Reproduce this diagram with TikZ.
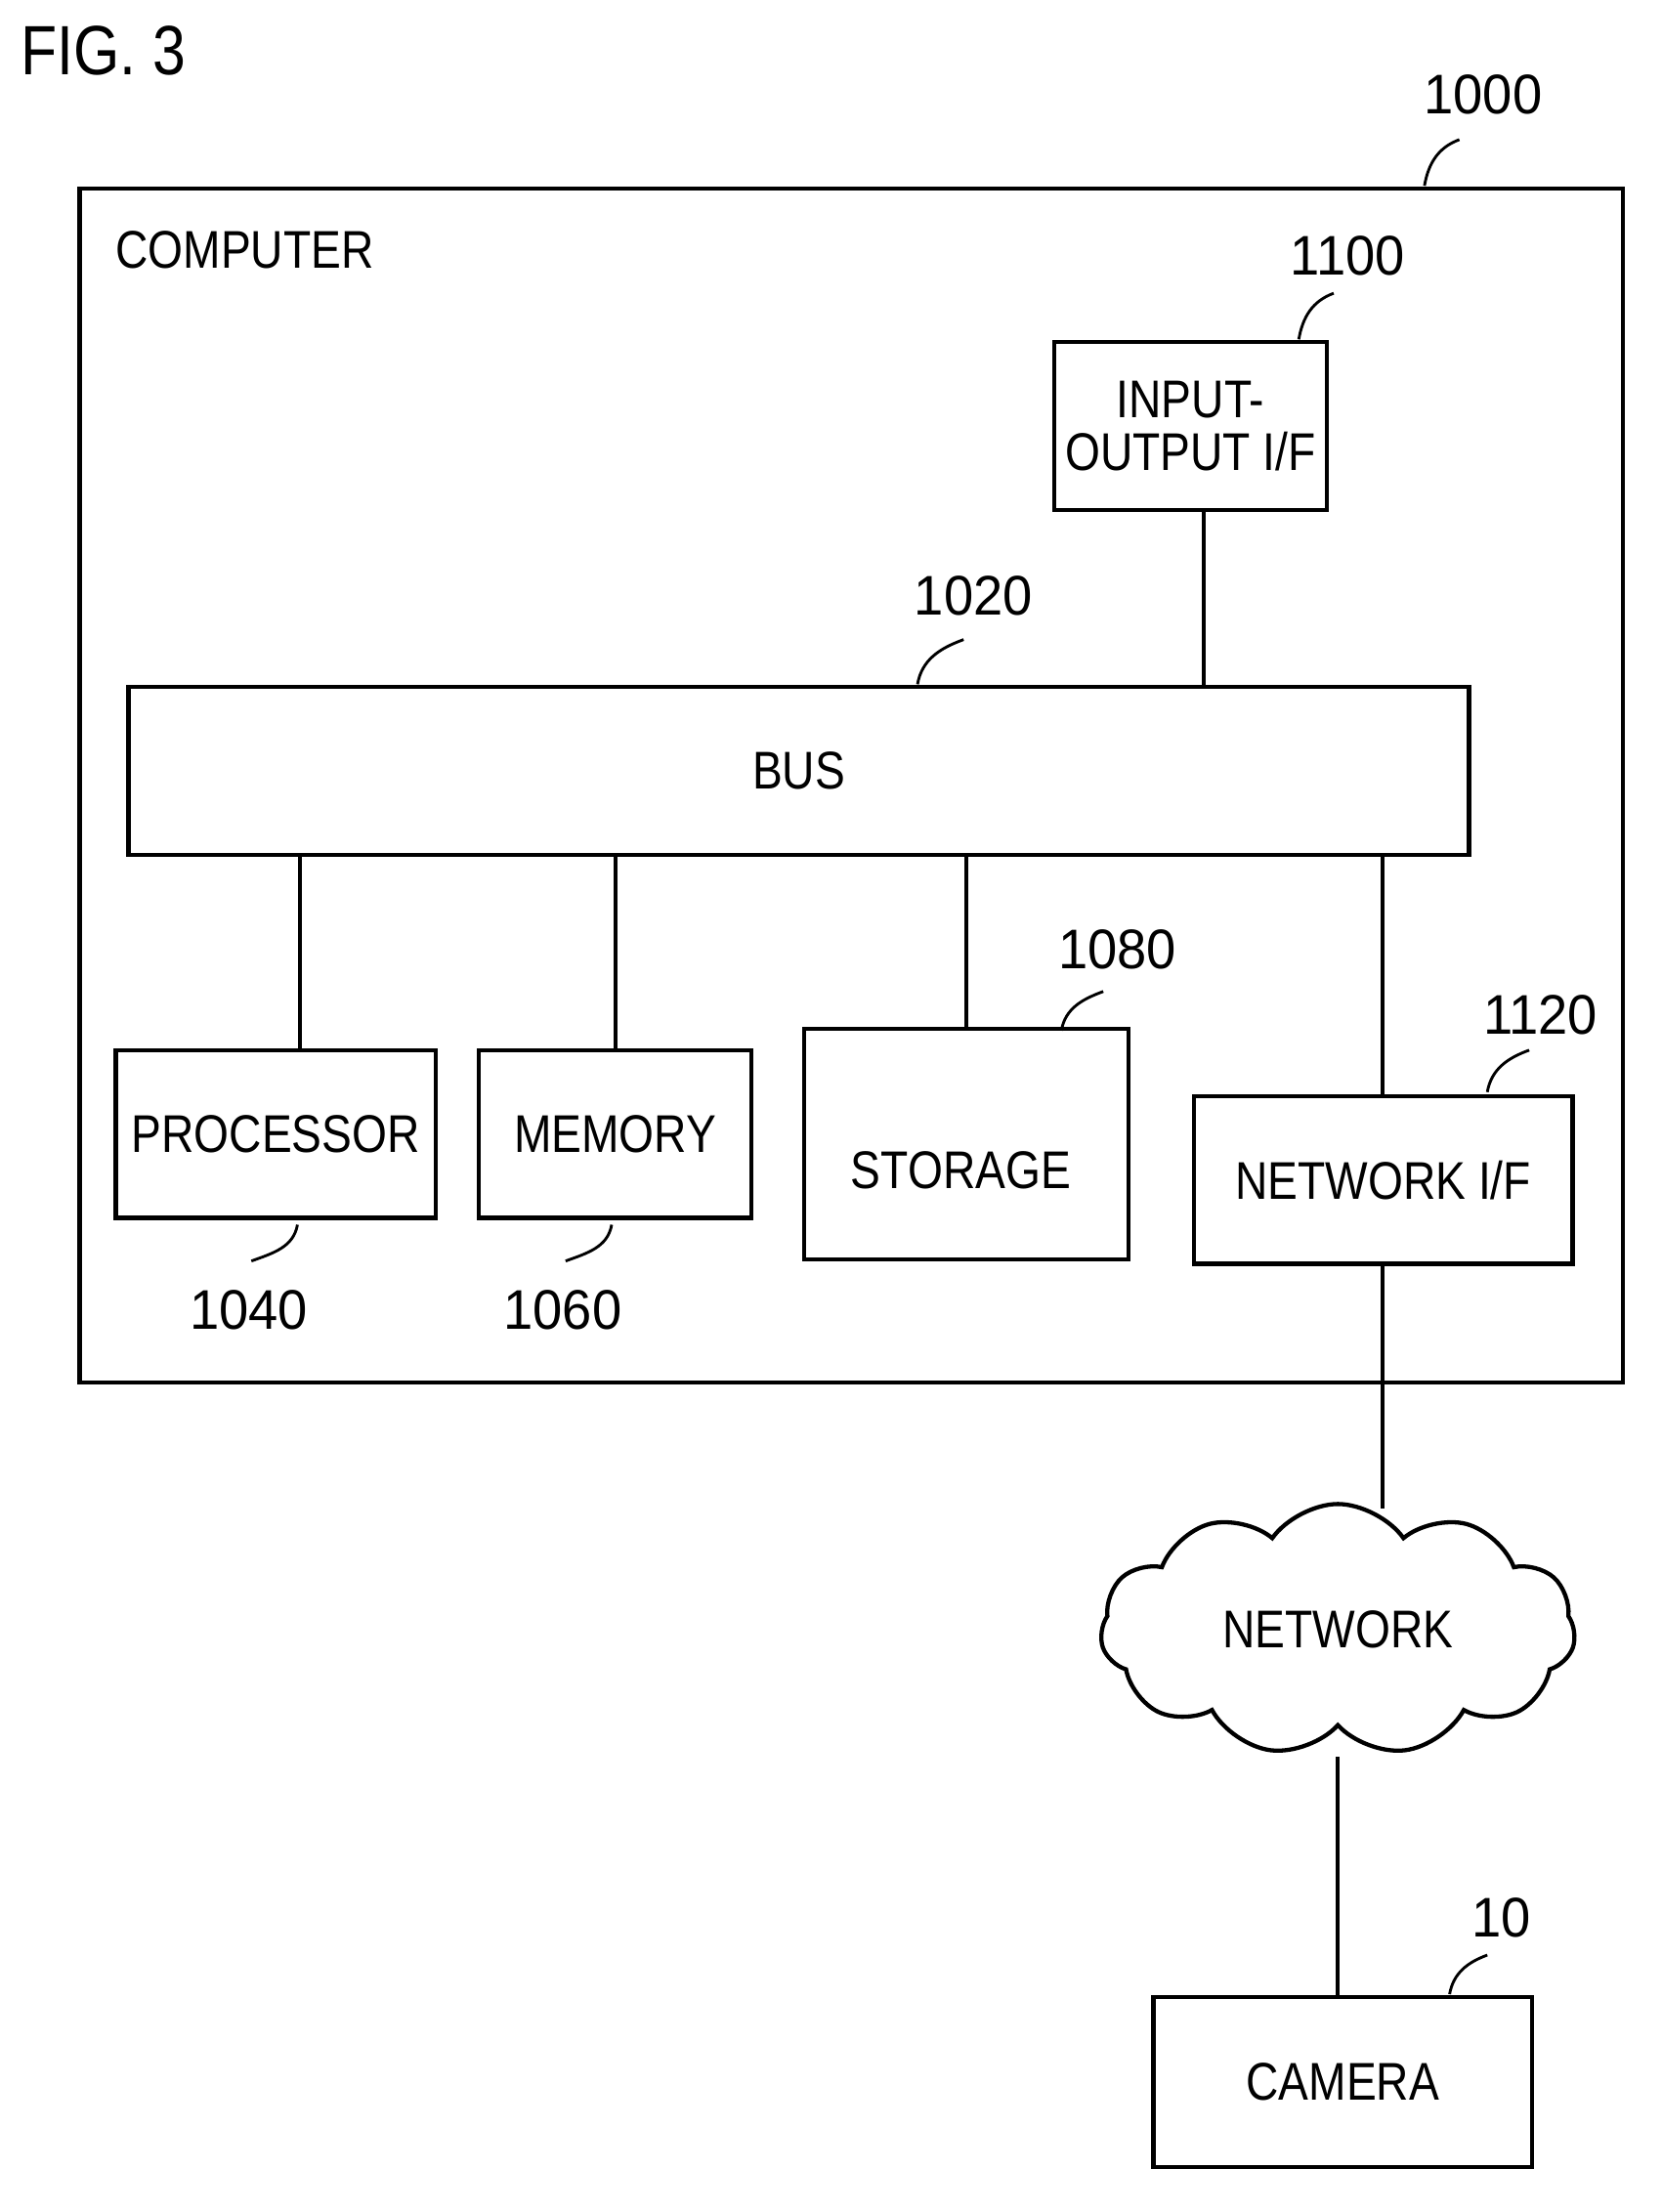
\documentclass[tikz,border=0pt]{standalone}
\usepackage{fontspec}
\setmainfont{Liberation Sans}[FakeStretch=0.85]
\newfontfamily\numfont{Liberation Sans}[FakeStretch=0.95]
\usetikzlibrary{shapes.geometric,shapes.symbols}
\begin{document}
\begin{tikzpicture}[x=1pt,y=1pt,line width=3pt,
  txt/.style={font=\fontsize{38}{40}\selectfont},
  num/.style={font=\numfont\fontsize{40}{42}\selectfont},
  lead/.style={line width=2pt}]
\useasboundingbox (0,0) rectangle (1190,-1584);
\node[anchor=west,font=\fontsize{50}{52}\selectfont] (fig) at (10,-36) {FIG. 3};
% outer
\draw (57,-135) rectangle (1162,-990);
\node[txt,anchor=west] (comp) at (78,-179) {COMPUTER};
\node[num] (n1000) at (1062,-68) {1000};
\draw[lead] (1020,-133) to[out=80,in=200] (1045,-100);
% IO
\node[draw,minimum width=195pt,minimum height=120pt,txt,align=center,inner sep=0pt] (io) at (852.5,-305) {INPUT-\\[-2pt]OUTPUT I/F};
\node[num] (n1100) at (965,-183) {1100};
\draw[lead] (930,-243) to[out=80,in=200] (955,-210);
% bus
\node[draw,minimum width=960pt,minimum height=120pt,txt,inner sep=0pt] (bus) at (572,-552) {BUS};
\node[num] (n1020) at (697,-427) {1020};
\draw[lead] (657,-490) to[out=80,in=200] (690,-458);
\draw (862,-365) -- (862,-492);
% processor
\node[draw,minimum width=229pt,minimum height=120pt,txt,inner sep=0pt] (proc) at (197.5,-812) {PROCESSOR};
\node[num] (n1040) at (178,-938) {1040};
\draw[lead] (180,-903) to[out=20,in=260] (213,-877);
% memory
\node[draw,minimum width=195pt,minimum height=120pt,txt,inner sep=0pt] (mem) at (440.5,-812) {MEMORY};
\node[num] (n1060) at (403,-938) {1060};
\draw[lead] (405,-903) to[out=20,in=260] (438,-877);
% storage
\node[draw,cylinder,shape border rotate=90,aspect=0.25,minimum width=232pt,minimum height=165pt,txt,inner sep=0pt] (stor) at (692,-820) {};
\node[txt] (storl) at (688,-838) {STORAGE};
\node[num] (n1080) at (800,-680) {1080};
\draw[lead] (760,-738) to[out=80,in=200] (790,-710);
% network if
\node[draw,minimum width=271pt,minimum height=120pt,txt,inner sep=0pt] (nif) at (990.5,-845) {NETWORK I/F};
\node[num] (n1120) at (1103,-727) {1120};
\draw[lead] (1065,-782) to[out=80,in=200] (1095,-752);
% bus links
\draw (215,-612) -- (proc.north -| 215,0);
\draw (441,-612) -- (mem.north -| 441,0);
\draw (692,-612) -- (stor.north);
\draw (990,-612) -- (nif.north -| 990,0);
% cloud
\node[draw,cloud,cloud puffs=11,cloud puff arc=110,aspect=1.9,minimum width=340pt,minimum height=180pt,txt,inner sep=0pt] (net) at (958,-1167) {NETWORK};
\draw (990,-905) -- (990,-1080);
\draw (958,-1258) -- (958,-1430);
% camera
\node[draw,minimum width=271pt,minimum height=122pt,txt,inner sep=0pt] (cam) at (961.5,-1491) {CAMERA};
\node[num] (n10) at (1075,-1373) {10};
\draw[lead] (1038,-1428) to[out=80,in=200] (1065,-1400);
\end{tikzpicture}
\end{document}
